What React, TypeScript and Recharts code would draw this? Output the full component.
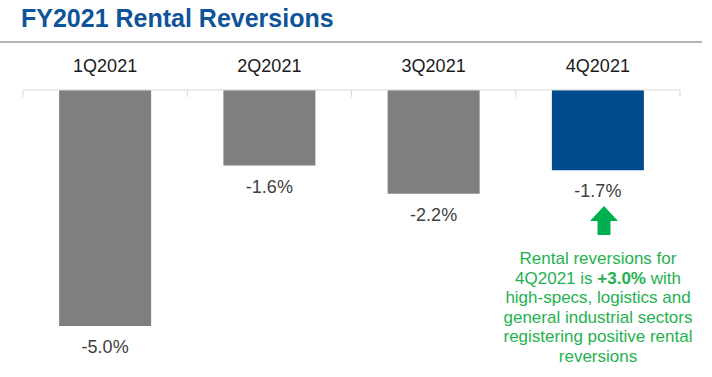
import { BarChart, Bar, XAxis, YAxis, Cell, LabelList } from "recharts";

const quarters = ["1Q2021", "2Q2021", "3Q2021", "4Q2021"];
const reversions = [-5.0, -1.6, -2.2, -1.7];
const barColors = ["#7f7f7f", "#7f7f7f", "#7f7f7f", "#004a8d"];

const data = quarters.map((q, i) => ({ quarter: q, value: reversions[i] }));

const QuarterTick = ({ x, y, payload, index }: any) => {
  const half = payload?.offset ?? 82;
  const isLast = index === quarters.length - 1;
  return (
    <g>
      <text
        x={x}
        y={y - 18}
        textAnchor="middle"
        fontSize={18}
        fill="#1a1a1a"
        fontFamily="'Liberation Sans', Arial, sans-serif">
        {payload.value}
      </text>
      <line x1={x - half} x2={x - half} y1={y} y2={y + 7} stroke="#d9d9d9" />
      {isLast && (
        <line x1={x + half} x2={x + half} y1={y} y2={y + 7} stroke="#d9d9d9" />
      )}
    </g>
  );
};

const ValueLabel = ({ x, y, width, height, value }: any) => {
  const end = Math.max(y, y + height);
  return (
    <text
      x={x + width / 2}
      y={end + 27}
      textAnchor="middle"
      fontSize={18}
      fill="#404040"
      fontFamily="'Liberation Sans', Arial, sans-serif">
      {`${value.toFixed(1)}%`}
    </text>
  );
};

export default function App() {
  return (
    <div
      style={{
        position: "fixed",
        left: 0,
        top: 0,
        width: 712,
        height: 377,
        background: "#fff",
        fontFamily: "'Liberation Sans', Arial, sans-serif",
      }}>
      {/* Title */}
      <div
        style={{
          position: "absolute",
          left: 21,
          top: 4,
          fontSize: 25,
          lineHeight: "29px",
          fontWeight: 700,
          color: "#0f5499",
          whiteSpace: "nowrap",
        }}>
        FY2021 Rental Reversions
      </div>
      <div
        style={{
          position: "absolute",
          left: 0,
          top: 41,
          width: 702,
          height: 2,
          background: "#b3b3b3",
        }}
      />

      <BarChart
        width={712}
        height={377}
        data={data}
        margin={{ top: 50, right: 32, bottom: 51, left: 23 }}
        barCategoryGap="22%">
        <XAxis
          dataKey="quarter"
          orientation="top"
          height={40}
          stroke="#d9d9d9"
          tickLine={false}
          tickSize={0}
          tickMargin={0}
          tick={<QuarterTick />}
          interval={0}
        />
        <YAxis hide domain={[-5, 0]} />
        <Bar dataKey="value" isAnimationActive={false}>
          {data.map((d, i) => (
            <Cell key={d.quarter} fill={barColors[i]} />
          ))}
          <LabelList dataKey="value" content={<ValueLabel />} />
        </Bar>
      </BarChart>

      {/* Annotation */}
      <svg
        width={30}
        height={30}
        style={{ position: "absolute", left: 589, top: 206 }}>
        <polygon
          points="15,0 29,15 21.5,15 21.5,29 8.5,29 8.5,15 1,15"
          fill="#00b050"
        />
      </svg>
      <div
        style={{
          position: "absolute",
          left: 488,
          top: 249,
          width: 220,
          textAlign: "center",
          fontSize: 17,
          lineHeight: "19.6px",
          color: "#1fb24f",
          whiteSpace: "nowrap",
        }}>
        Rental reversions for
        <br />
        4Q2021 is <b>+3.0%</b> with
        <br />
        high-specs, logistics and
        <br />
        general industrial sectors
        <br />
        registering positive rental
        <br />
        reversions
      </div>
    </div>
  );
}
